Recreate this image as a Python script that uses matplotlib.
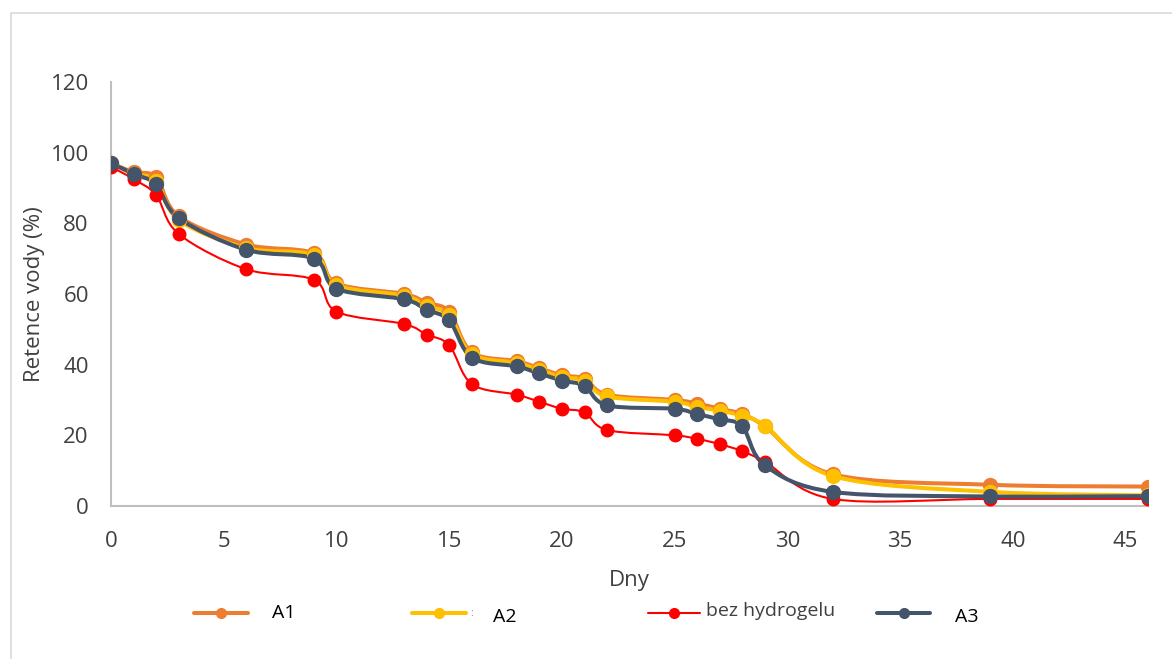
import matplotlib
matplotlib.use("Agg")
import matplotlib.pyplot as plt
import numpy as np
from matplotlib.path import Path
from matplotlib.patches import PathPatch, Rectangle
from matplotlib.lines import Line2D

plt.rcParams['font.family'] = ['Open Sans', 'DejaVu Sans']

# dny mereni
dny = [0, 1, 2, 3, 6, 9, 10, 13, 14, 15, 16, 18, 19, 20, 21, 22, 25, 26, 27, 28, 29, 32, 39, 46]

a1 = [97, 94.5, 93, 82, 74, 71.5, 63, 60, 57.5, 55, 43.5, 41, 39, 37, 36, 31.5,
      30, 29, 27.5, 26, 22.5, 9, 6, 5.5]
a2 = [97, 94, 92, 81, 73, 71, 62.5, 59.5, 56.5, 54, 43, 40.5, 38.5, 36.5, 35.5, 31,
      29.5, 28, 27, 25.5, 22.7, 8.5, 4, 3]
bez = [96, 92.5, 88, 77, 67, 64, 55, 51.5, 48.5, 45.5, 34.5, 31.5, 29.5, 27.5, 26.5, 21.5,
       20, 19, 17.5, 15.5, 12.5, 2, 2, 2]
a3 = [97, 94, 91, 81.5, 72.5, 70, 61.5, 58.5, 55.5, 52.5, 42, 39.5, 37.5, 35.5, 34, 28.5,
      27.5, 26, 24.5, 22.5, 11.5, 4, 2.7, 2.8]

series = [
    ("A1", a1, "#ED7D31", 2.9, 10),
    ("A2", a2, "#FFC000", 2.9, 10),
    ("bez hydrogelu", bez, "#FF0000", 1.5, 9),
    ("A3", a3, "#44546A", 2.9, 10),
]


# hladka krivka jako v Excelu (Bezier pres body)
def hladka_cesta(x, y):
    p = np.column_stack([x, y]).astype(float)
    verts = [p[0]]
    codes = [Path.MOVETO]
    n = len(p)
    for i in range(n - 1):
        p0 = p[i - 1] if i > 0 else p[i]
        p3 = p[i + 2] if i + 2 < n else p[i + 1]
        c1 = p[i] + (p[i + 1] - p0) / 6.0
        c2 = p[i + 1] - (p3 - p[i]) / 6.0
        verts += [c1, c2, p[i + 1]]
        codes += [Path.CURVE4] * 3
    return Path(verts, codes)


fig = plt.figure(figsize=(11.72, 6.59), dpi=100)
ax = fig.add_axes([0.0947, 0.2322, 0.885, 0.6434])

for nazev, vals, barva, lw, ms in series:
    ax.add_patch(PathPatch(hladka_cesta(dny, vals), facecolor="none", edgecolor=barva,
                           lw=lw, capstyle="round", joinstyle="round", zorder=2))
    ax.plot(dny, vals, ls="none", marker="o", ms=ms, color=barva, zorder=3)

ax.set_xlim(0, 46)
ax.set_ylim(0, 120)
ax.set_xticks(range(0, 46, 5))
ax.set_yticks(range(0, 121, 20))
for s in ["top", "right"]:
    ax.spines[s].set_visible(False)
for s in ["left", "bottom"]:
    ax.spines[s].set_color("#BFBFBF")
    ax.spines[s].set_linewidth(1.5)
ax.tick_params(length=0, labelsize=16, labelcolor="#404040")
ax.tick_params(axis="x", pad=18)
ax.tick_params(axis="y", pad=16)
ax.set_xlabel("Dny", fontsize=16, color="#404040", labelpad=13)
ax.set_ylabel("Retence vody (%)", fontsize=16, color="#404040", labelpad=4)

# ramecek grafu
fig.patches.append(Rectangle((11 / 1172, -0.01), 1.2, 1 - 13 / 659 + 0.01,
                             transform=fig.transFigure, fill=False,
                             edgecolor="#D9D9D9", lw=1.2))

# legenda
polozky = [
    (194, 248, 272, "A1", 613, 613, "#000000"),
    (412, 466, 493, "A2", 613, 617, "#000000"),
    (648, 700, 706, "bez hydrogelu", 613, 611, "#404040"),
    (877, 930, 955, "A3", 613, 617, "#000000"),
]
for (nazev, vals, barva, lw, ms), (x0, x1, xt, txt, ly, ty, tc) in zip(series, polozky):
    yy = 1 - ly / 659
    fig.add_artist(Line2D([x0 / 1172, x1 / 1172], [yy, yy], color=barva, lw=lw,
                          solid_capstyle="round", transform=fig.transFigure))
    fig.add_artist(Line2D([(x0 + x1) / 2344], [yy], color=barva, marker="o", ms=7,
                          transform=fig.transFigure))
    fig.text(xt / 1172, 1 - ty / 659, txt, fontsize=14, color=tc, va="center")
fig.text(470 / 1172, 1 - 614 / 659, ":", fontsize=7, color="#808080", va="center")

plt.savefig("out.png", dpi=100)
